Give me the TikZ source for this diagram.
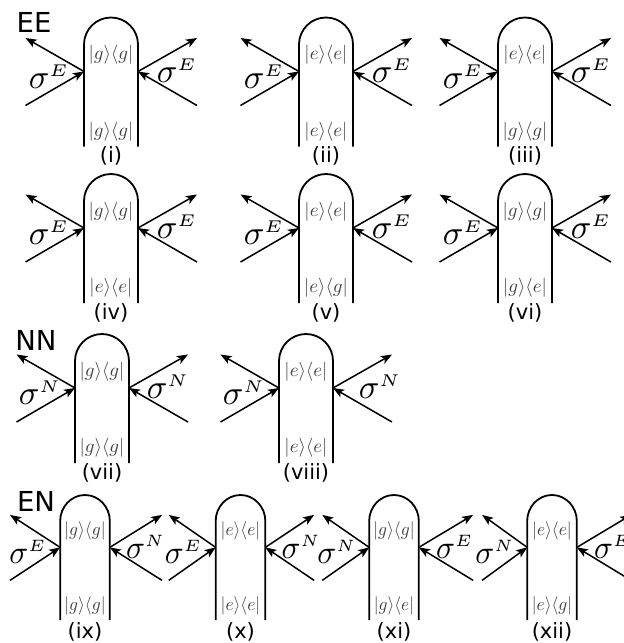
\documentclass[tikz,border=0pt]{standalone}
\usepackage{amsmath}
\usepackage{fontspec}
\usetikzlibrary{arrows.meta}
\newfontfamily\labelfont{DejaVu Sans}
\tikzset{
  wall/.style={line width=1.8pt},
  photon/.style={line width=1.5pt,-{Stealth[length=11pt,width=8.5pt,inset=2.5pt]}},
  ket/.style={scale=1.9,text=black!75,inner sep=0pt},
  sigmalabel/.style={scale=3.4,inner sep=0pt},
  panellabel/.style={font=\labelfont\fontsize{21}{21}\selectfont,inner sep=0pt},
  heading/.style={font=\labelfont\fontsize{27.5}{27.5}\selectfont,inner sep=0pt},
  lefttip/.store in=\lefttipx, lefttip=-85.5,
  righttip/.store in=\righttipx, righttip=86,
  rsigma/.store in=\rsigmax, rsigma=66,
  tagy/.store in=\tagyval, tagy=-138.5
}
% {name}{position}{scope options}{top ket}{bottom ket}{left sigma}{right sigma}{label}
\newcommand{\loopdiagram}[8]{
  \begin{scope}[shift={(#2)},#3,transform shape]
    \coordinate (#1-lin) at (\lefttipx,-88);
    \coordinate (#1-lout) at (\lefttipx,-20.5);
    \coordinate (#1-rin) at (\righttipx,-88);
    \coordinate (#1-rout) at (\righttipx,-20.5);
    \coordinate (#1-ljoin) at (-27,-54);
    \coordinate (#1-rjoin) at (27,-54);
    \coordinate (#1-lbase) at (-27,-129);
    \coordinate (#1-rbase) at (27,-129);
    \coordinate (#1-tag) at (0,\tagyval);
    \draw[wall] (#1-lbase) -- (-27,-27) arc (180:0:27) -- (#1-rbase);
    \draw[photon] (#1-lin) -- (#1-ljoin);
    \draw[photon] (#1-ljoin) -- (#1-lout);
    \draw[photon] (#1-rin) -- (#1-rjoin);
    \draw[photon] (#1-rjoin) -- (#1-rout);
    \node[ket] (#1-top) at (0,-37.5) {$#4$};
    \node[ket] (#1-bottom) at (0,-114) {$#5$};
    \node[sigmalabel] (#1-lsigma) at (-62,-59) {$\sigma^{\scriptscriptstyle #6}$};
    \node[sigmalabel] (#1-rsigma) at (\rsigmax,-53) {$\sigma^{\scriptscriptstyle #7}$};
  \end{scope}
  \node[panellabel] (#1-label) at (#1-tag) {#8};
}
\newcommand{\kgg}{|g\rangle\langle g|}
\newcommand{\kee}{|e\rangle\langle e|}
\newcommand{\kge}{|g\rangle\langle e|}
\newcommand{\keg}{|e\rangle\langle g|}

\begin{document}
\begin{tikzpicture}[x=1pt,y=1pt]
\useasboundingbox (0,-643) rectangle (624,0);
\node[heading] (ee) at (34,-22.5) {EE};
\node[heading] (nn) at (36,-340) {NN};
\node[heading] (en) at (36,-501) {EN};

% first row
\loopdiagram{i}{111,-17.5}{scale=1}{\kgg}{\kgg}{E}{E}{(i)}
\loopdiagram{ii}{326,-17.5}{scale=1}{\kee}{\kee}{E}{E}{(ii)}
\loopdiagram{iii}{525,-17.5}{scale=1}{\kee}{\kgg}{E}{E}{(iii)}

% second row
\loopdiagram{iv}{111,-174}{scale=1}{\kgg}{\kee}{E}{E}{(iv)}
\loopdiagram{v}{326,-174}{scale=1}{\kee}{\keg}{E}{E}{(v)}
\loopdiagram{vi}{525,-174}{scale=1}{\kgg}{\kge}{E}{E}{(vi)}

% third row
\loopdiagram{vii}{102,-334}{scale=1}{\kgg}{\kgg}{N}{N}{(vii)}
\loopdiagram{viii}{306,-334}{rsigma=74}{\kee}{\kee}{N}{N}{(viii)}

% fourth row
\loopdiagram{ix}{85,-495}{xscale=.92,yscale=.97,tagy=-141.5,lefttip=-81.5,righttip=83.7}{\kgg}{\kgg}{E}{N}{(ix)}
\loopdiagram{x}{240.5,-495}{xscale=.92,yscale=.97,tagy=-141.5,lefttip=-78,righttip=80}{\kee}{\kee}{E}{N}{(x)}
\loopdiagram{xi}{394,-495}{xscale=.92,yscale=.97,tagy=-141.5,lefttip=-78,righttip=86}{\kgg}{\kge}{N}{E}{(xi)}
\loopdiagram{xii}{552,-495}{xscale=.92,yscale=.97,tagy=-141.5,lefttip=-76,righttip=86}{\kee}{\keg}{N}{E}{(xii)}
\end{tikzpicture}
\end{document}
